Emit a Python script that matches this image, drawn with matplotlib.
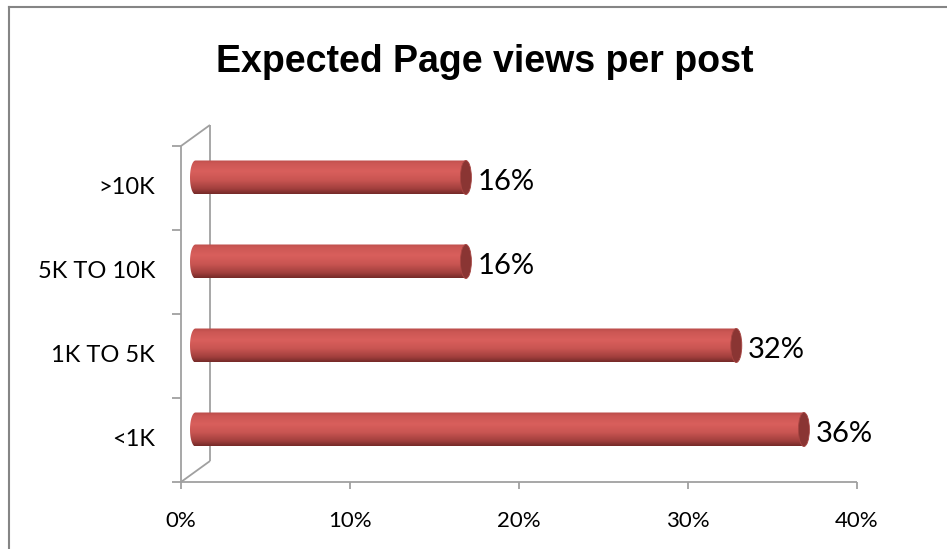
import numpy as np
import matplotlib
matplotlib.use("Agg")
import matplotlib.pyplot as plt
from matplotlib.colors import LinearSegmentedColormap
from matplotlib.patches import Ellipse, PathPatch
from matplotlib.path import Path
from matplotlib.lines import Line2D

categories = ['<1K', '1K TO 5K', '5K TO 10K', '>10K']
shares = [36, 32, 16, 16]
x_ticks = [0, 10, 20, 30, 40]
x_tick_labels = ['0%', '10%', '20%', '30%', '40%']

W, H = 947, 549
fig = plt.figure(figsize=(W / 100, H / 100), dpi=100)
fig.patch.set_facecolor('white')

# front plane of the 3d plot: 0..40% across, categories stacked up
ax = fig.add_axes([181 / W, (H - 482) / H, (857 - 181) / W, (482 - 146) / H])
ax.set_xlim(0, 40)
ax.set_ylim(-0.5, 3.5)
ax.axis('off')

px_x = 40 / 676.0   # data units per pixel
px_y = 4 / 336.0
dx = 29 * px_x      # depth offset of the back wall
dy = 21 * px_y

grid_col = '#a0a0a0'
lw = 1.3
line_kw = dict(color=grid_col, lw=lw, clip_on=False, solid_capstyle='butt')

# walls / axes
ax.plot([0, 0], [-0.5, 3.5], **line_kw)
ax.plot([dx, dx], [-0.5 + dy, 3.5 + dy], **line_kw)
ax.plot([0, dx], [-0.5, -0.5 + dy], **line_kw)
ax.plot([0, dx], [3.5, 3.5 + dy], **line_kw)
ax.plot([0, 40], [-0.5, -0.5], **line_kw)
for k in range(len(categories) + 1):
    ax.plot([-9 * px_x, 0], [k - 0.5, k - 0.5], **line_kw)
for t, lab in zip(x_ticks, x_tick_labels):
    ax.plot([t, t], [-0.5, -0.5 - 7 * px_y], **line_kw)
    ax.text(t, -0.5 - 39 * px_y, lab, ha='center', va='center',
            fontsize=16, family='Lato', color='black')

for i, cat in enumerate(categories):
    ax.text(-26 * px_x, i, cat, ha='right', va='center',
            fontsize=17, family='Lato', color='black')

# cylinder shading, top to bottom
cyl = LinearSegmentedColormap.from_list('cyl', [
    (0.0, '#b94c49'), (0.12, '#cc5754'), (0.35, '#d95f5c'),
    (0.6, '#c95552'), (0.85, '#a13f3d'), (1.0, '#742a28')])
grad = np.linspace(0, 1, 256).reshape(-1, 1)

bar_h = 34 * px_y
rx = 5.5 * px_x
for i, v in enumerate(shares):
    yc = i + dy / 2
    x0 = dx / 2
    x1 = dx / 2 + v
    y0, y1 = yc - bar_h / 2, yc + bar_h / 2
    # body outline: rounded left end + straight sides
    t = np.linspace(np.pi / 2, 3 * np.pi / 2, 40)
    left = np.column_stack([x0 + rx * np.cos(t), yc + bar_h / 2 * np.sin(t)])
    verts = np.vstack([[[x1, y1]], left, [[x1, y0]], [[x1, y1]]])
    body = PathPatch(Path(verts), facecolor='none', edgecolor='none')
    ax.add_patch(body)
    im = ax.imshow(grad, cmap=cyl, extent=[x0 - rx, x1, y0, y1],
                   aspect='auto', origin='upper', zorder=2)
    im.set_clip_path(body)
    cap = Ellipse((x1, yc), 2 * rx, bar_h, facecolor='#8a3533',
                  edgecolor='#a84542', lw=0.6, zorder=3)
    ax.add_patch(cap)
    ax.text(x1 + rx + 6 * px_x, yc - 5 * px_y, f'{v}%', ha='left', va='center',
            fontsize=21, family='Lato', color='black', zorder=4)

ax.set_xlim(0, 40)
ax.set_ylim(-0.5, 3.5)

fig.text(485 / W, 1 - 62 / H, 'Expected Page views per post', ha='center',
         va='center', fontsize=27, fontweight='bold', family='Liberation Sans')

# chart area border (left and top edges)
fig.add_artist(Line2D([8.5 / W, 8.5 / W], [0, 1 - 6.5 / H], color='#858585', lw=1.5))
fig.add_artist(Line2D([8.5 / W, 1], [1 - 6.5 / H, 1 - 6.5 / H], color='#858585', lw=1.5))

fig.savefig('out.png', dpi=100, facecolor='white')
